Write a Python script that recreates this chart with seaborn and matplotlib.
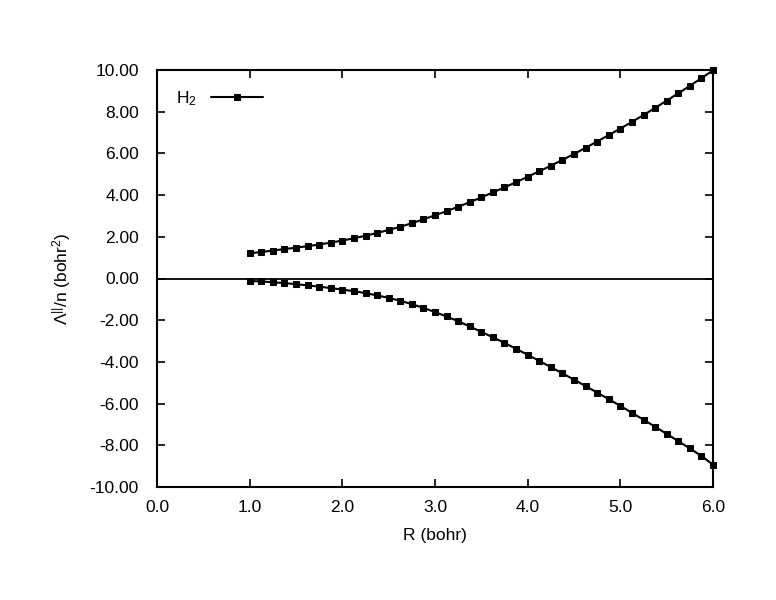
import numpy as np
import pandas as pd
import matplotlib
matplotlib.use('Agg')
import matplotlib.pyplot as plt
import seaborn as sns

# values
R = [1.0, 1.125, 1.25, 1.375, 1.5, 1.625, 1.75, 1.875, 2.0, 2.125, 2.25, 2.375, 2.5, 2.625,
     2.75, 2.875, 3.0, 3.125, 3.25, 3.375, 3.5, 3.625, 3.75, 3.875, 4.0, 4.125, 4.25, 4.375,
     4.5, 4.625, 4.75, 4.875, 5.0, 5.125, 5.25, 5.375, 5.5, 5.625, 5.75, 5.875, 6.0]
upper = [1.21, 1.27, 1.34, 1.41, 1.48, 1.55, 1.63, 1.72, 1.82, 1.93, 2.05, 2.18, 2.33, 2.48,
         2.65, 2.84, 3.03, 3.23, 3.44, 3.66, 3.89, 4.13, 4.37, 4.62, 4.88, 5.14, 5.41, 5.69,
         5.97, 6.27, 6.57, 6.88, 7.19, 7.51, 7.84, 8.18, 8.53, 8.88, 9.24, 9.61, 9.98]
lower = [-0.12, -0.14, -0.18, -0.22, -0.27, -0.33, -0.39, -0.46, -0.53, -0.61, -0.70, -0.81,
         -0.93, -1.07, -1.23, -1.41, -1.61, -1.82, -2.05, -2.30, -2.56, -2.82, -3.09, -3.37,
         -3.66, -3.95, -4.25, -4.55, -4.85, -5.16, -5.47, -5.79, -6.11, -6.44, -6.77, -7.11,
         -7.45, -7.80, -8.15, -8.51, -8.93]
x_ticks = [0.0, 1.0, 2.0, 3.0, 4.0, 5.0, 6.0]
y_ticks = [-10, -8, -6, -4, -2, 0, 2, 4, 6, 8, 10]

sns.set_style('ticks')
plt.rcParams['font.family'] = ['Liberation Sans', 'DejaVu Sans']
plt.rcParams['mathtext.fontset'] = 'custom'
plt.rcParams['mathtext.rm'] = 'Liberation Sans'
plt.rcParams['mathtext.it'] = 'Liberation Sans'
plt.rcParams['font.size'] = 12.5
plt.rcParams['text.color'] = 'black'
plt.rcParams['axes.labelcolor'] = 'black'

fig = plt.figure(figsize=(7.76, 6.0), dpi=100)
ax = fig.add_axes([157/776, 1 - 487/600, (713 - 157)/776, (487 - 70)/600])

df_up = pd.DataFrame({'R': R, 'val': upper})
df_lo = pd.DataFrame({'R': R, 'val': lower})
sns.lineplot(data=df_up, x='R', y='val', ax=ax, color='black', marker='s', markersize=5,
             markeredgecolor='black', linewidth=1.5, label='H$_2$', clip_on=False)
sns.lineplot(data=df_lo, x='R', y='val', ax=ax, color='black', marker='s', markersize=5,
             markeredgecolor='black', linewidth=1.5, clip_on=False)
ax.axhline(0, color='black', linewidth=1.3)

ax.set_xlim(0, 6)
ax.set_ylim(-10, 10)
ax.set_xticks(x_ticks)
ax.set_yticks(y_ticks)
ax.set_xticklabels(['%.1f' % v for v in x_ticks])
ax.set_yticklabels(['%.2f' % v for v in y_ticks])
ax.tick_params(direction='in', length=6, width=1.2, top=True, right=True, labelsize=12.5,
               colors='black')
ax.tick_params(axis='y', pad=13)
ax.tick_params(axis='x', pad=9)
for s in ax.spines.values():
    s.set_visible(True)
    s.set_linewidth(1.5)
    s.set_color('black')

ax.set_xlabel('R (bohr)', fontsize=12.5, labelpad=10)
ax.set_ylabel(r'$\Lambda^{||}$/n (bohr$^2$)', fontsize=12.5, labelpad=12)

leg = ax.legend(loc='upper left', frameon=False, markerfirst=False, handlelength=3.0,
                fontsize=12.5, borderaxespad=0.7, labelcolor='black')

fig.savefig('out.png', dpi=100)
